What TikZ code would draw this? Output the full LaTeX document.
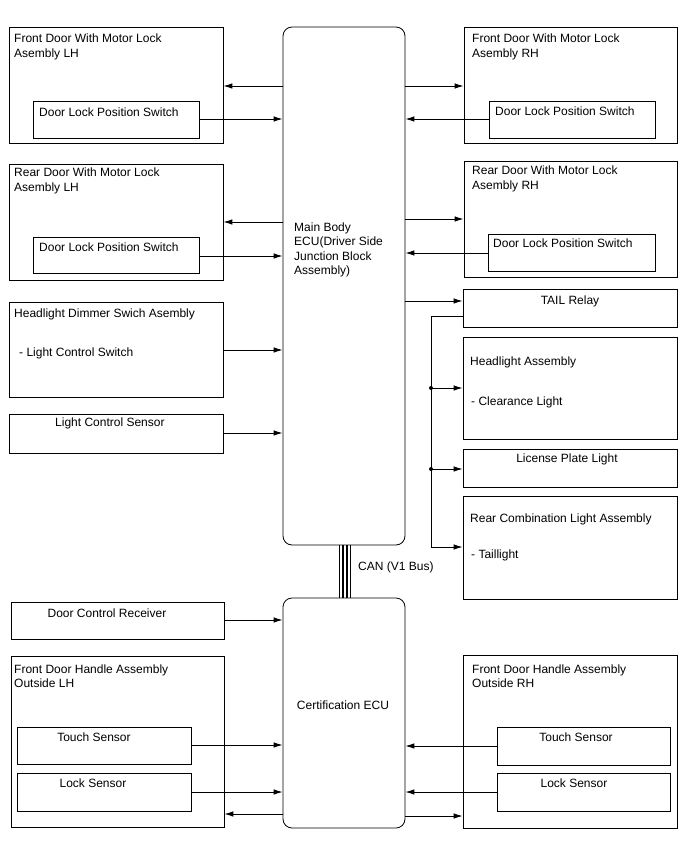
\documentclass[tikz,border=0pt]{standalone}
\usepackage{fontspec}
\setmainfont{Liberation Sans}
\usetikzlibrary{arrows.meta,fit}
\begin{document}
\begin{tikzpicture}[x=1pt,y=-1pt,
  box/.style={draw, line width=0.8pt, inner sep=0pt},
  txt/.style={inner sep=0pt, font=\fontsize{12}{14.5}\selectfont, align=left},
  arr/.style={-{Latex[length=9pt,width=5.5pt]}, line width=0.9pt},
  wire/.style={line width=0.9pt},
  dot/.style={circle, fill, inner sep=0pt, minimum size=4pt},
  canline/.style={line width=1.8pt}]
\useasboundingbox[fill=white] (0,0) rectangle (688,852);

% ECUs
\node[box, rounded corners=9pt, fit={(283,27)(405,545)}] (ecu) {};
\node[box, rounded corners=9pt, fit={(283,598)(405,828)}] (cert) {};
\node[txt, anchor=west] (ecuT) at (294,250) {Main Body\\ECU(Driver Side\\Junction Block\\Assembly)};
\node[txt] (certT) at (343,705) {Certification ECU};

% left upper
\node[box, fit={(9,27)(223,143)}] (fdl) {};
\node[box, fit={(33,101)(199,138)}] (swA) {};
\node[txt, anchor=west] (fdlT) at (14,47) {Front Door With Motor Lock\\Asembly LH};
\node[txt, anchor=west] (swAT) at (39,112) {Door Lock Position Switch};

\node[box, fit={(9,164)(223,280)}] (rdl) {};
\node[box, fit={(33,237)(199,273)}] (swB) {};
\node[txt, anchor=west] (rdlT) at (14,181) {Rear Door With Motor Lock\\Asembly LH};
\node[txt, anchor=west] (swBT) at (39,247) {Door Lock Position Switch};

\node[box, fit={(9,302)(223,397)}] (hd) {};
\node[txt, anchor=west] (hdT) at (14,314) {Headlight Dimmer Swich Asembly};
\node[txt, anchor=west] (hdS) at (19,353) {- Light Control Switch};

\node[box, fit={(9,414)(223,453)}] (lcs) {};
\node[txt, anchor=west] (lcsT) at (55,423) {Light Control Sensor};

% right upper
\node[box, fit={(464,27)(677,143)}] (fdr) {};
\node[box, fit={(489,101)(655,138)}] (swC) {};
\node[txt, anchor=west] (fdrT) at (472,47) {Front Door With Motor Lock\\Asembly RH};
\node[txt, anchor=west] (swCT) at (495,111) {Door Lock Position Switch};

\node[box, fit={(464,161)(677,277)}] (rdr) {};
\node[box, fit={(488,234)(655,271)}] (swD) {};
\node[txt, anchor=west] (rdrT) at (472,179) {Rear Door With Motor Lock\\Asembly RH};
\node[txt, anchor=west] (swDT) at (493,243) {Door Lock Position Switch};

\node[box, fit={(463,289)(677,327)}] (tail) {};
\node[txt] (tailT) at (570,301) {TAIL Relay};

\node[box, fit={(463,337)(677,439)}] (ha) {};
\node[txt, anchor=west] (haT) at (470,362) {Headlight Assembly};
\node[txt, anchor=west] (haS) at (471,402) {- Clearance Light};

\node[box, fit={(463,449)(677,487)}] (lp) {};
\node[txt] (lpT) at (567,459) {License Plate Light};

\node[box, fit={(463,496)(677,599)}] (rc) {};
\node[txt, anchor=west] (rcT) at (470,519) {Rear Combination Light Assembly};
\node[txt, anchor=west] (rcS) at (471,555) {- Taillight};

% bottom left
\node[box, fit={(11,602)(224,639)}] (dcr) {};
\node[txt] (dcrT) at (107,613) {Door Control Receiver};

\node[box, fit={(11,656)(224,827)}] (fhl) {};
\node[txt, anchor=west] (fhlT) at (14,676) {Front Door Handle Assembly\\Outside LH};
\node[box, fit={(17,727)(191,764)}] (tsl) {};
\node[txt] (tslT) at (94,737) {Touch Sensor};
\node[box, fit={(17,773)(191,811)}] (lsl) {};
\node[txt] (lslT) at (93,783) {Lock Sensor};

% bottom right
\node[box, fit={(463,655)(677,828)}] (fhr) {};
\node[txt, anchor=west] (fhrT) at (472,676) {Front Door Handle Assembly\\Outside RH};
\node[box, fit={(497,727)(670,765)}] (tsr) {};
\node[txt] (tsrT) at (576,737) {Touch Sensor};
\node[box, fit={(497,773)(670,811)}] (lsr) {};
\node[txt] (lsrT) at (574,783) {Lock Sensor};

% CAN
\foreach \dx in {-5.5,-1.8,1.8,5.5}
  \draw[canline] ([xshift=\dx pt+1pt]ecu.south) -- ([xshift=\dx pt+1pt]cert.north);
\node[txt, anchor=west] (canT) at (358,567) {CAN (V1 Bus)};

% connectors, upper left
\draw[arr] (ecu.west |- 0,86) -- (fdl.east |- 0,86);
\draw[arr] (swA.east |- 0,119) -- (ecu.west |- 0,119);
\draw[arr] (ecu.west |- 0,222) -- (rdl.east |- 0,222);
\draw[arr] (swB.east |- 0,256) -- (ecu.west |- 0,256);
\draw[arr] (hd.east |- 0,350) -- (ecu.west |- 0,350);
\draw[arr] (lcs.east |- 0,433) -- (ecu.west |- 0,433);

% upper right
\draw[arr] (ecu.east |- 0,86) -- (fdr.west |- 0,86);
\draw[arr] (swC.west |- 0,119) -- (ecu.east |- 0,119);
\draw[arr] (ecu.east |- 0,219) -- (rdr.west |- 0,219);
\draw[arr] (swD.west |- 0,253) -- (ecu.east |- 0,253);
\draw[arr] (ecu.east |- 0,301) -- (tail.west |- 0,301);

% tail relay bus
\coordinate (tb) at (431,316);
\coordinate (tbb) at (431,547);
\node[dot] (d1) at (431,388) {};
\node[dot] (d2) at (431,469) {};
\draw[wire] (tail.west |- tb) -- (tb) -- (tbb);
\draw[arr] (tbb) -- (rc.west |- tbb);
\draw[arr] (d1.center) -- (ha.west |- d1);
\draw[arr] (d2.center) -- (lp.west |- d2);

% bottom
\draw[arr] (dcr.east |- 0,620) -- (cert.west |- 0,620);
\draw[arr] (tsl.east |- 0,745) -- (cert.west |- 0,745);
\draw[arr] (lsl.east |- 0,792) -- (cert.west |- 0,792);
\draw[arr] (cert.west |- 0,814) -- (fhl.east |- 0,814);
\draw[arr] (tsr.west |- 0,746) -- (cert.east |- 0,746);
\draw[arr] (lsr.west |- 0,792) -- (cert.east |- 0,792);
\draw[arr] (cert.east |- 0,816) -- (fhr.west |- 0,816);
\end{tikzpicture}
\end{document}
